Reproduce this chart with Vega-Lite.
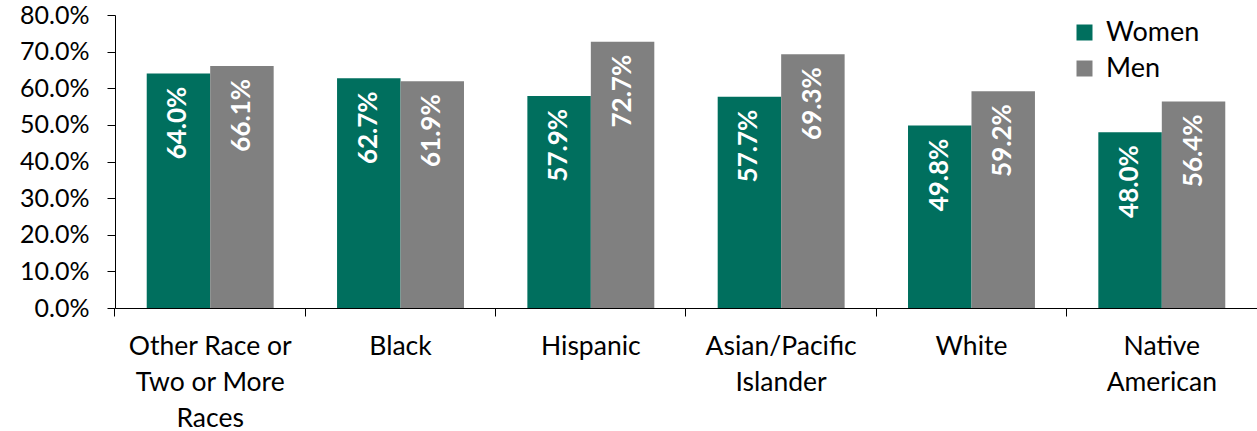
{
  "$schema": "https://vega.github.io/schema/vega-lite/v6.json",
  "width": 1142,
  "height": 293,
  "autosize": {"type": "none"},
  "padding": {"left": 115, "top": 15, "right": 0, "bottom": 123},
  "background": "white",
  "config": {"view": {"stroke": null}, "font": "Lato"},
  "data": {
    "values": [
      {"race": "Other Race or Two or More Races", "sex": "Women", "value": 0.640},
      {"race": "Other Race or Two or More Races", "sex": "Men", "value": 0.661},
      {"race": "Black", "sex": "Women", "value": 0.627},
      {"race": "Black", "sex": "Men", "value": 0.619},
      {"race": "Hispanic", "sex": "Women", "value": 0.579},
      {"race": "Hispanic", "sex": "Men", "value": 0.727},
      {"race": "Asian/Pacific Islander", "sex": "Women", "value": 0.577},
      {"race": "Asian/Pacific Islander", "sex": "Men", "value": 0.693},
      {"race": "White", "sex": "Women", "value": 0.498},
      {"race": "White", "sex": "Men", "value": 0.592},
      {"race": "Native American", "sex": "Women", "value": 0.480},
      {"race": "Native American", "sex": "Men", "value": 0.564}
    ]
  },
  "encoding": {
    "x": {
      "field": "race",
      "type": "nominal",
      "sort": ["Other Race or Two or More Races", "Black", "Hispanic", "Asian/Pacific Islander", "White", "Native American"],
      "scale": {"paddingInner": 0.333, "paddingOuter": 0.1667},
      "axis": {
        "title": null,
        "labelAngle": 0,
        "labelFontSize": 26.5,
        "labelColor": "black",
        "labelPadding": 17,
        "labelLineHeight": 36,
        "tickSize": 8,
        "tickColor": "black",
        "domainColor": "black",
        "bandPosition": -0.25,
        "labelExpr": "datum.value == 'Other Race or Two or More Races' ? ['Other Race or', 'Two or More', 'Races'] : datum.value == 'Asian/Pacific Islander' ? ['Asian/Pacific', 'Islander'] : datum.value == 'Native American' ? ['Native', 'American'] : datum.value"
      }
    },
    "xOffset": {"field": "sex", "type": "nominal", "sort": ["Women", "Men"]},
    "y": {
      "field": "value",
      "type": "quantitative",
      "scale": {"domain": [0, 0.8], "nice": false},
      "axis": {
        "title": null,
        "format": ".1%",
        "values": [0, 0.1, 0.2, 0.3, 0.4, 0.5, 0.6, 0.7, 0.8],
        "grid": false,
        "labelFontSize": 25,
        "labelColor": "black",
        "labelPadding": 18,
        "tickSize": 8,
        "tickColor": "black",
        "domainColor": "black"
      }
    }
  },
  "layer": [
    {
      "mark": {"type": "bar"},
      "encoding": {
        "color": {
          "field": "sex",
          "type": "nominal",
          "sort": ["Women", "Men"],
          "scale": {"domain": ["Women", "Men"], "range": ["#006F5E", "#808080"]},
          "legend": {
            "title": null,
            "orient": "none",
            "legendX": 956,
            "legendY": 4,
            "symbolType": "square",
            "symbolSize": 256,
            "symbolStrokeWidth": 0,
            "labelFontSize": 27,
            "labelColor": "black",
            "labelOffset": 8,
            "rowPadding": 8
          }
        }
      }
    },
    {
      "mark": {"type": "text", "angle": 270, "align": "right", "baseline": "middle", "dx": -13, "color": "white", "fontSize": 26, "fontWeight": "bold"},
      "encoding": {
        "text": {"field": "value", "type": "quantitative", "format": ".1%"}
      }
    }
  ]
}
